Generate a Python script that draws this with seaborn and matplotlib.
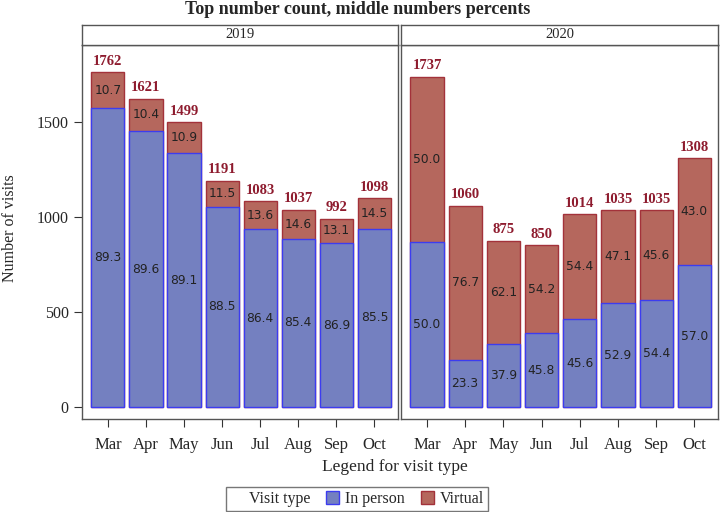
import pandas as pd
import numpy as np
import matplotlib
matplotlib.use("Agg")
import matplotlib.pyplot as plt
from matplotlib.patches import Patch
import seaborn as sns

months = ["Mar", "Apr", "May", "Jun", "Jul", "Aug", "Sep", "Oct"]
years = [2019, 2020]

total_2019 = [1762, 1621, 1499, 1191, 1083, 1037, 992, 1098]
inperson_pct_2019 = [89.3, 89.6, 89.1, 88.5, 86.4, 85.4, 86.9, 85.5]
virtual_pct_2019 = [10.7, 10.4, 10.9, 11.5, 13.6, 14.6, 13.1, 14.5]

total_2020 = [1737, 1060, 875, 850, 1014, 1035, 1035, 1308]
inperson_pct_2020 = [50.0, 23.3, 37.9, 45.8, 45.6, 52.9, 54.4, 57.0]
virtual_pct_2020 = [50.0, 76.7, 62.1, 54.2, 54.4, 47.1, 45.6, 43.0]

rows = []
for yr, tot, ip, vp in [(2019, total_2019, inperson_pct_2019, virtual_pct_2019),
                        (2020, total_2020, inperson_pct_2020, virtual_pct_2020)]:
    for m, t, a, b in zip(months, tot, ip, vp):
        rows.append({"year": yr, "month": m, "total": t, "inperson": t * a / 100.0,
                     "ip_pct": a, "v_pct": b})
df = pd.DataFrame(rows)

blue = "#7480C0"
blue_edge = "#3C3CF0"
red = "#B5675D"
red_edge = "#A3323A"
lab_red = "#8E1B2E"
serif = "Liberation Serif"

sns.set_style("white")
plt.rcParams["font.family"] = ["DejaVu Sans"]

fig = plt.figure(figsize=(7.22, 5.12), dpi=100)
W, H = 722, 512
panels = [(82, 398), (401, 718)]
top, bottom = 45, 419
strip_top = 25

for i, (yr, (x0, x1)) in enumerate(zip(years, panels)):
    ax = fig.add_axes([x0 / W, 1 - bottom / H, (x1 - x0) / W, (bottom - top) / H])
    sub = df[df.year == yr]
    # total bar in virtual colour, in-person bar drawn over it
    sns.barplot(data=sub, x="month", y="total", color=red, edgecolor=red_edge,
                linewidth=1.0, width=0.87, saturation=1, ax=ax)
    sns.barplot(data=sub, x="month", y="inperson", color=blue, edgecolor=blue_edge,
                linewidth=1.0, width=0.87, saturation=1, ax=ax)
    for j, r in enumerate(sub.itertuples()):
        ax.text(j, r.total + 24, f"{r.total}", ha="center", va="bottom",
                color=lab_red, fontsize=10.5, fontweight="bold", family=serif)
        ax.text(j, r.inperson + (r.total - r.inperson) / 2, f"{r.v_pct:.1f}",
                ha="center", va="center", fontsize=8.8, color="#222222")
        ax.text(j, r.inperson / 2, f"{r.ip_pct:.1f}",
                ha="center", va="center", fontsize=8.8, color="#222222")
    ax.set_ylim(-63, 1905)
    ax.set_xlim(-0.68, 7.62)
    ax.set_xlabel("")
    ax.set_ylabel("")
    for s in ax.spines.values():
        s.set_color("#555555")
        s.set_linewidth(1.0)
    ax.tick_params(axis="x", direction="out", length=6, color="#333333",
                   bottom=True, pad=7)
    for t in ax.get_xticklabels():
        t.set_fontfamily(serif)
        t.set_fontsize(12)
    if i == 0:
        ax.set_yticks([0, 500, 1000, 1500])
        ax.tick_params(axis="y", direction="out", length=6, color="#333333", left=True)
        for t in ax.get_yticklabels():
            t.set_fontfamily(serif)
            t.set_fontsize(11.5)
    else:
        ax.set_yticks([])

    sax = fig.add_axes([x0 / W, 1 - top / H, (x1 - x0) / W, (top - strip_top) / H])
    sax.set_xticks([])
    sax.set_yticks([])
    for s in sax.spines.values():
        s.set_color("#555555")
        s.set_linewidth(1.0)
    sax.text(0.5, 0.5, str(yr), ha="center", va="center", fontsize=10.5,
             family=serif, transform=sax.transAxes)

fig.text(358 / W, 1 - 9 / H, "Top number count, middle numbers percents",
         ha="center", va="center", fontsize=13, fontweight="bold", family=serif)
fig.text(10 / W, 1 - 228 / H, "Number of visits", rotation=90, ha="center",
         va="center", fontsize=11.5, family=serif)
fig.text(395 / W, 1 - 467 / H, "Legend for visit type", ha="center", va="center",
         fontsize=12.5, family=serif)

handles = [Patch(visible=False), Patch(facecolor=blue, edgecolor=blue_edge),
           Patch(facecolor=red, edgecolor=red_edge)]
labels = ["Visit type", "In person", "Virtual"]
leg = fig.legend(handles, labels, ncol=3, loc="center", bbox_to_anchor=(357 / W, 1 - 499 / H),
                 frameon=True, fancybox=False, edgecolor="#555555",
                 prop={"family": serif, "size": 11.5}, handlelength=0.8, handleheight=0.8,
                 handletextpad=0.4, columnspacing=1.0, borderpad=0.25, borderaxespad=0)
leg.get_frame().set_linewidth(1.0)

fig.savefig("out.png", dpi=100)
